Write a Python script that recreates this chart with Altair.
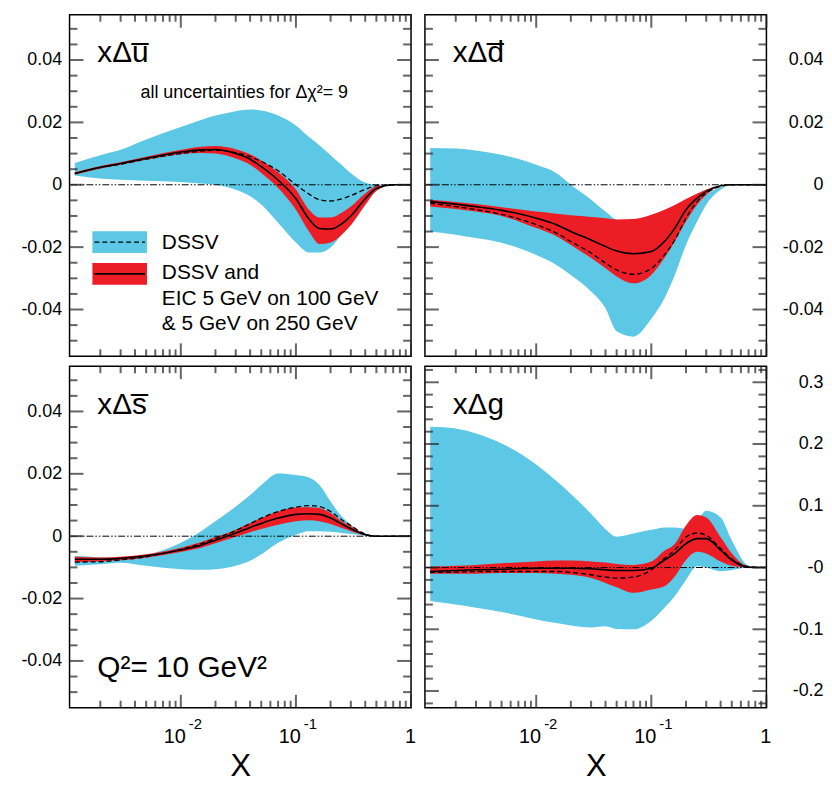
import altair as alt
import pandas as pd

# ---------------- data ----------------
X = [0.0012, 0.002, 0.003, 0.005, 0.01, 0.015, 0.02, 0.03, 0.04, 0.05, 0.07,
     0.1, 0.13, 0.16, 0.2, 0.25, 0.3, 0.4, 0.5, 0.7, 1.0]

# x Delta u-bar
UB_DSSV_HI = [0.0070, 0.0095, 0.0112, 0.0145, 0.0185, 0.0208, 0.0222, 0.0236, 0.0241, 0.0238, 0.0222,
              0.0190, 0.0153, 0.0127, 0.0095, 0.0063, 0.0037, 0.0007, 0.0, 0.0, 0.0]
UB_DSSV_LO = [0.0030, 0.0020, 0.0016, 0.0013, 0.0009, 0.0004, 0.0000, -0.0016, -0.0037, -0.0063, -0.0122,
              -0.0185, -0.0217, -0.0217, -0.0201, -0.0159, -0.0116, -0.0042, -0.0005, 0.0, 0.0]
UB_DSSV = [0.0036, 0.0055, 0.0066, 0.0082, 0.0100, 0.0108, 0.0111, 0.0103, 0.0090, 0.0075, 0.0045,
           0.0000, -0.0030, -0.0048, -0.0052, -0.0045, -0.0035, -0.0015, -0.0003, 0.0, 0.0]
UB_EIC_HI = [0.0040, 0.0060, 0.0072, 0.0090, 0.0112, 0.0122, 0.0124, 0.0114, 0.0098, 0.0078, 0.0040,
             -0.0015, -0.0080, -0.0105, -0.0105, -0.0090, -0.0070, -0.0028, -0.0005, 0.0, 0.0]
UB_EIC_LO = [0.0032, 0.0052, 0.0064, 0.0080, 0.0098, 0.0102, 0.0100, 0.0084, 0.0064, 0.0038, -0.0010,
             -0.0080, -0.0150, -0.0190, -0.0185, -0.0160, -0.0130, -0.0065, -0.0020, 0.0, 0.0]
UB_EIC = [0.0036, 0.0056, 0.0068, 0.0085, 0.0105, 0.0112, 0.0113, 0.0100, 0.0082, 0.0058, 0.0015,
          -0.0045, -0.0110, -0.0140, -0.0142, -0.0125, -0.0100, -0.0045, -0.0012, 0.0, 0.0]

# x Delta d-bar
DB_DSSV_HI = [0.0118, 0.0116, 0.0110, 0.0096, 0.0064, 0.0037, 0.0, -0.0048, -0.0086, -0.0112, -0.0118,
              -0.0115, -0.0105, -0.0092, -0.0072, -0.0048, -0.0030, -0.0008, 0.0, 0.0, 0.0]
DB_DSSV_LO = [-0.0150, -0.0160, -0.0171, -0.0186, -0.0225, -0.0257, -0.0289, -0.0342, -0.0396, -0.0470, -0.0487,
              -0.0430, -0.0364, -0.0289, -0.0193, -0.0118, -0.0064, -0.0016, 0.0, 0.0, 0.0]
DB_DSSV = [-0.0059, -0.0070, -0.0080, -0.0095, -0.0128, -0.0155, -0.0182, -0.0219, -0.0251, -0.0273, -0.0287,
           -0.0268, -0.0225, -0.0177, -0.0107, -0.0054, -0.0027, -0.0005, 0.0, 0.0, 0.0]
DB_EIC_HI = [-0.0048, -0.0055, -0.0062, -0.0072, -0.0086, -0.0093, -0.0098, -0.0103, -0.0107, -0.0111, -0.0110,
             -0.0096, -0.0080, -0.0065, -0.0046, -0.0028, -0.0015, -0.0004, 0.0, 0.0, 0.0]
DB_EIC_LO = [-0.0070, -0.0078, -0.0086, -0.0100, -0.0139, -0.0165, -0.0193, -0.0235, -0.0268, -0.0294, -0.0316,
             -0.0289, -0.0235, -0.0182, -0.0118, -0.0064, -0.0032, -0.0005, 0.0, 0.0, 0.0]
DB_EIC = [-0.0054, -0.0062, -0.0070, -0.0082, -0.0107, -0.0128, -0.0150, -0.0177, -0.0198, -0.0212, -0.0221,
          -0.0214, -0.0182, -0.0139, -0.0080, -0.0043, -0.0021, -0.0003, 0.0, 0.0, 0.0]

# x Delta s-bar
SB_DSSV_HI = [-0.0063, -0.0068, -0.0070, -0.0060, -0.0021, 0.0016, 0.0048, 0.0095, 0.0132, 0.0164, 0.0201,
              0.0196, 0.0188, 0.0164, 0.0111, 0.0063, 0.0037, 0.0005, 0.0, 0.0, 0.0]
SB_DSSV_LO = [-0.0095, -0.0090, -0.0085, -0.0095, -0.0106, -0.0108, -0.0106, -0.0095, -0.0079, -0.0058, -0.0021,
              0.0005, 0.0016, 0.0016, 0.0014, 0.0010, 0.0007, 0.0002, 0.0, 0.0, 0.0]
SB_DSSV = [-0.0083, -0.0082, -0.0076, -0.0066, -0.0042, -0.0024, -0.0007, 0.0018, 0.0040, 0.0058, 0.0079,
           0.0093, 0.0098, 0.0095, 0.0079, 0.0053, 0.0034, 0.0007, 0.0, 0.0, 0.0]
SB_EIC_HI = [-0.0066, -0.0068, -0.0066, -0.0058, -0.0037, -0.0019, -0.0003, 0.0021, 0.0042, 0.0058, 0.0079,
             0.0092, 0.0093, 0.0090, 0.0074, 0.0048, 0.0032, 0.0007, 0.0, 0.0, 0.0]
SB_EIC_LO = [-0.0083, -0.0080, -0.0077, -0.0069, -0.0051, -0.0037, -0.0023, -0.0002, 0.0013, 0.0023, 0.0037,
             0.0048, 0.0051, 0.0048, 0.0039, 0.0026, 0.0016, 0.0003, 0.0, 0.0, 0.0]
SB_EIC = [-0.0074, -0.0074, -0.0071, -0.0063, -0.0044, -0.0029, -0.0013, 0.0010, 0.0028, 0.0041, 0.0058,
          0.0070, 0.0072, 0.0070, 0.0058, 0.0039, 0.0024, 0.0005, 0.0, 0.0, 0.0]

# x Delta g
G_DSSV_HI = [0.228, 0.225, 0.217, 0.201, 0.167, 0.140, 0.119, 0.087, 0.062, 0.050, 0.055,
             0.061, 0.065, 0.065, 0.063, 0.075, 0.092, 0.081, 0.044, 0.003, 0.0]
G_DSSV_LO = [-0.054, -0.060, -0.065, -0.072, -0.084, -0.090, -0.094, -0.097, -0.095, -0.0995, -0.100,
             -0.086, -0.065, -0.046, -0.020, 0.002, 0.000, -0.006, -0.004, 0.0, 0.0]
G_DSSV = [-0.0080, -0.0075, -0.0064, -0.0064, -0.0064, -0.0064, -0.0080, -0.0117, -0.0154, -0.0170, -0.0154,
          -0.0037, 0.0149, 0.0282, 0.0495, 0.0559, 0.0521, 0.0309, 0.0138, 0.0016, 0.0]
G_EIC_HI = [0.0016, 0.0030, 0.0043, 0.0069, 0.0096, 0.0112, 0.0112, 0.0096, 0.0080, 0.0059, 0.0043,
            0.0096, 0.0270, 0.0380, 0.0680, 0.0850, 0.0810, 0.0490, 0.0230, 0.0016, 0.0]
G_EIC_LO = [-0.0101, -0.0101, -0.0101, -0.0090, -0.0090, -0.0101, -0.0117, -0.0170, -0.0250, -0.0319, -0.0410,
            -0.0356, -0.0303, -0.0144, 0.0122, 0.0255, 0.0229, 0.0096, 0.0027, 0.0, 0.0]
G_EIC = [-0.0064, -0.0048, -0.0037, -0.0027, -0.0011, -0.0011, -0.0011, -0.0021, -0.0037, -0.0048, -0.0048,
         -0.0011, 0.0122, 0.0229, 0.0388, 0.0468, 0.0468, 0.0282, 0.0122, 0.0005, 0.0]

# axes
X_DOMAIN = [0.00108, 1.0]
X_MAJOR = [0.01, 0.1, 1.0]
X_MINOR = [round(m * d, 4) for d in (0.001, 0.01, 0.1) for m in range(2, 10)]
X_LABEL_POS = [0.01, 0.1, 1.0]
X_LABEL_BASE = ["10", "10", "1"]
X_LABEL_EXP = ["-2", "-1", ""]

Q_DOMAIN = [-0.055, 0.0545]
Q_MAJOR = [-0.04, -0.02, 0.0, 0.02, 0.04]
Q_MINOR = [v for v in [round(-0.05 + 0.005 * i, 3) for i in range(21)] if v not in Q_MAJOR]
G_DOMAIN = [-0.227, 0.326]
G_MAJOR = [-0.2, -0.1, 0.0, 0.1, 0.2, 0.3]
G_MINOR = [v for v in [round(-0.22 + 0.02 * i, 2) for i in range(28)] if v not in G_MAJOR]

BLUE = "#5cc8e5"
RED = "#ec1d25"
FONT = "Liberation Sans"
TICK = "#222222"
W, H = 344, 344
MAJ, MIN = 14, 8

Q_LABELS = "datum.value == 0 ? '0' : (datum.value < 0 ? '-' : '') + format(abs(datum.value), '.2f')"
G_LABELS = "datum.value == 0 ? '-0' : (datum.value < 0 ? '-' : '') + format(abs(datum.value), '.1f')"

ONE = pd.DataFrame({"k": [0]})


def panel(label, hi, lo, dssv, ehi, elo, eic, ydom, ymaj, ymin, side, bottom, lexpr, extras=()):
    df = pd.DataFrame({"x": X, "dhi": hi, "dlo": lo, "dm": dssv, "ehi": ehi, "elo": elo, "em": eic})
    xs = alt.Scale(type="log", domain=X_DOMAIN, nice=False)
    ys = alt.Scale(domain=ydom, nice=False, zero=False)
    if bottom:
        xax = alt.Axis(labels=False, ticks=False, domain=False, grid=False, title="X",
                       titleFont=FONT, titleFontSize=31, titleFontWeight="normal",
                       titlePadding=44, titleColor="black")
    else:
        xax = None
    if side == "left":
        yax = alt.Axis(orient="left", values=ymaj, labelExpr=lexpr, ticks=False, domain=False,
                       grid=False, title=None, labelFont=FONT, labelFontSize=18,
                       labelColor="black", labelPadding=8)
    else:
        yax = alt.Axis(orient="right", values=ymaj, labelExpr=lexpr, ticks=False, domain=False,
                       grid=False, title=None, labelFont=FONT, labelFontSize=18,
                       labelColor="black", labelPadding=57, labelAlign="right")

    def XE(f):
        return alt.X(f, type="quantitative", scale=xs, axis=xax)

    def YE(f):
        return alt.Y(f, type="quantitative", scale=ys, axis=yax)

    base = alt.Chart(df)
    layers = [
        base.mark_area(color=BLUE, interpolate="monotone").encode(x=XE("x"), y=YE("dlo"), y2="dhi"),
        base.mark_area(color=RED, interpolate="monotone").encode(x=XE("x"), y=YE("elo"), y2="ehi"),
        alt.Chart(ONE).mark_rule(color="black", strokeWidth=1, strokeDash=[7, 2, 1.5, 2, 1.5, 2]).encode(
            y=alt.Y(datum=0, type="quantitative", scale=ys, axis=yax)),
        base.mark_line(color="black", strokeWidth=1.3, strokeDash=[5, 3], interpolate="monotone").encode(
            x=XE("x"), y=YE("dm")),
        base.mark_line(color="black", strokeWidth=1.6, interpolate="monotone").encode(
            x=XE("x"), y=YE("em")),
    ]
    # inward ticks on all four sides
    ymj = pd.DataFrame({"t": ymaj})
    ymn = pd.DataFrame({"t": ymin})
    xmj = pd.DataFrame({"t": X_MAJOR})
    xmn = pd.DataFrame({"t": X_MINOR})
    for tdf, L in ((ymj, MAJ), (ymn, MIN)):
        for xc in (L / 2, W - L / 2):
            layers.append(alt.Chart(tdf).mark_tick(color=TICK, orient="horizontal", size=L,
                                                   thickness=2).encode(
                y=YE("t"), x=alt.value(xc)))
    for tdf, L in ((xmj, MAJ - 1), (xmn, MIN - 1)):
        for yc in (L / 2, H - L / 2):
            layers.append(alt.Chart(tdf).mark_tick(color=TICK, orient="vertical", size=L,
                                                   thickness=2).encode(
                x=XE("t"), y=alt.value(yc)))
    # panel label
    layers.append(alt.Chart(ONE).mark_text(align="left", baseline="alphabetic", font=FONT,
                                           fontSize=30, color="black").encode(
        x=alt.value(28), y=alt.value(48), text=alt.value(label)))
    if bottom:
        lab = pd.DataFrame({"x": X_LABEL_POS, "base": X_LABEL_BASE, "exp": X_LABEL_EXP})
        layers.append(alt.Chart(lab).mark_text(align="right", baseline="alphabetic", font=FONT,
                                               fontSize=20, dx=5, color="black").encode(
            x=XE("x"), y=alt.value(H + 36), text="base:N"))
        layers.append(alt.Chart(lab).mark_text(align="left", baseline="alphabetic", font=FONT,
                                               fontSize=15, dx=8, color="black").encode(
            x=XE("x"), y=alt.value(H + 21), text="exp:N"))
    layers.extend(extras)
    return alt.layer(*layers).properties(width=W, height=H)


def txt(s, x, y, size, align="left"):
    return alt.Chart(ONE).mark_text(align=align, baseline="middle", font=FONT, fontSize=size,
                                    color="black").encode(x=alt.value(x), y=alt.value(y), text=alt.value(s))


legend = [
    txt("all uncertainties for \u0394\u03c7\u00b2= 9", 176, 79, 18, "center"),
    alt.Chart(ONE).mark_rect(color=BLUE).encode(x=alt.value(23), x2=alt.value(78),
                                                y=alt.value(218), y2=alt.value(240)),
    alt.Chart(ONE).mark_rule(color="black", strokeWidth=1.3, strokeDash=[5, 3]).encode(
        x=alt.value(25), x2=alt.value(76), y=alt.value(229)),
    alt.Chart(ONE).mark_rect(color=RED).encode(x=alt.value(23), x2=alt.value(78),
                                               y=alt.value(250), y2=alt.value(272)),
    alt.Chart(ONE).mark_rule(color="black", strokeWidth=1.6).encode(
        x=alt.value(25), x2=alt.value(76), y=alt.value(261)),
    txt("DSSV", 93, 230, 21),
    txt("DSSV and", 93, 260, 21),
    txt("EIC 5 GeV on 100 GeV", 93, 286, 21),
    txt("& 5 GeV on 250 GeV", 93, 312, 21),
]

p_u = panel("x\u0394u\u0305", UB_DSSV_HI, UB_DSSV_LO, UB_DSSV, UB_EIC_HI, UB_EIC_LO, UB_EIC,
            Q_DOMAIN, Q_MAJOR, Q_MINOR, "left", False, Q_LABELS, legend)
p_d = panel("x\u0394d\u0305", DB_DSSV_HI, DB_DSSV_LO, DB_DSSV, DB_EIC_HI, DB_EIC_LO, DB_EIC,
            Q_DOMAIN, Q_MAJOR, Q_MINOR, "right", False, Q_LABELS)
p_s = panel("x\u0394s\u0305", SB_DSSV_HI, SB_DSSV_LO, SB_DSSV, SB_EIC_HI, SB_EIC_LO, SB_EIC,
            Q_DOMAIN, Q_MAJOR, Q_MINOR, "left", True, Q_LABELS,
            [txt("Q\u00b2= 10 GeV\u00b2", 28, 304, 30)])
p_g = panel("x\u0394g", G_DSSV_HI, G_DSSV_LO, G_DSSV, G_EIC_HI, G_EIC_LO, G_EIC,
            G_DOMAIN, G_MAJOR, G_MINOR, "right", True, G_LABELS)

chart = alt.concat(p_u, p_d, p_s, p_g, columns=2, spacing={"row": 8, "column": 3}).properties(
    padding={"left": 12, "top": 3, "right": 0, "bottom": 0},
    background="white",
).configure_view(stroke="black", strokeWidth=1.5)

chart.save("out.html", embed_options={"renderer": "svg", "actions": False})
